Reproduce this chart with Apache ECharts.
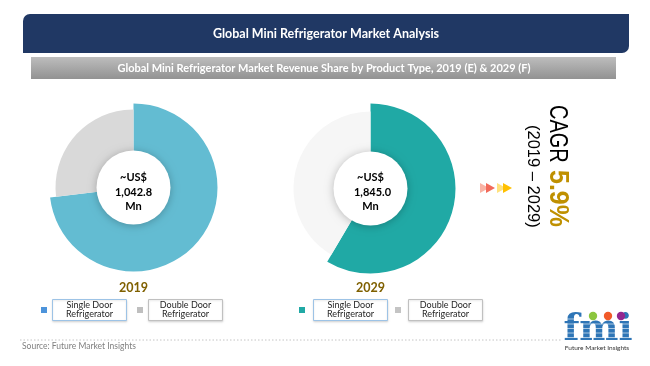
<!DOCTYPE html>
<html><head><meta charset="utf-8">
<script src="https://cdn.jsdelivr.net/npm/echarts@6/dist/echarts.min.js"></script>
<style>html,body{margin:0;padding:0;background:#fff}#c{width:650px;height:366px}</style>
</head><body><div id="c"></div>
<script>
// ---- data ----
const categories = ['Single Door Refrigerator', 'Double Door Refrigerator'];
const categoryLines = [['Single Door', 'Refrigerator'], ['Double Door', 'Refrigerator']];
const years = ['2019', '2029'];
const share2019 = [73.1, 26.9];
const share2029 = [58.5, 41.5];
const marketValue = ['1,042.8', '1,845.0'];
const valuePrefix = '~US$';
const valueUnit = 'Mn';
const cagrLabel = 'CAGR';
const cagrValue = '5.9%';
const cagrPeriod = '(2019 – 2029)';
const titleText = 'Global Mini Refrigerator Market Analysis';
const subtitleText = 'Global Mini Refrigerator Market Revenue Share by Product Type, 2019 (E) & 2029 (F)';
const sourceText = 'Source: Future Market Insights';

// ---- styles ----
const FONT = 'Lato, "Open Sans", sans-serif';
const pies = [
  { center: [133.5, 187.5], radii: [84, 78], hole: 36, colors: ['#63bcd2', '#d9d9d9'], legend: ['#4d94db', '#bfbfbf'], data: share2019 },
  { center: [370.5, 188.5], radii: [85, 77], hole: 36, colors: ['#20a9a5', '#f6f6f6'], legend: ['#21a9a5', '#c4c4c4'], data: share2029 }
];
const legendX = [[41, 52, 137, 148], [299, 313, 395, 408]];

const series = [];
pies.forEach((p) => {
  [0, 1].forEach((k) => {
    series.push({
      type: 'pie',
      center: p.center,
      radius: [p.hole, p.radii[k]],
      startAngle: 90,
      clockwise: true,
      silent: true,
      animation: false,
      label: { show: false },
      labelLine: { show: false },
      emphasis: { disabled: true },
      itemStyle: { borderWidth: 0 },
      data: p.data.map((v, j) => ({
        name: categories[j],
        value: v,
        itemStyle: { color: j === k ? p.colors[j] : 'rgba(0,0,0,0)', borderWidth: 0 }
      }))
    });
  });
});

const txt = (x, y, text, font, fill, align, extra) => Object.assign({
  type: 'text', x: x, y: y, z: 100,
  style: { text: text, font: font, fill: fill, textAlign: align || 'center', align: align || 'center',
           textVerticalAlign: 'middle', verticalAlign: 'middle' }
}, extra || {});

const graphics = [];
// header
graphics.push({ type: 'rect', z: 50, shape: { x: 23, y: 14, width: 606, height: 39, r: [7, 0, 7, 0] },
  style: { fill: '#203864' } });
graphics.push(txt(326, 34, titleText, 'bold 12.5px ' + FONT, '#ffffff'));
graphics.push({ type: 'rect', z: 50, shape: { x: 31, y: 57, width: 585, height: 22 },
  style: { fill: new echarts.graphic.LinearGradient(0, 0, 0, 1, [{ offset: 0, color: '#bdbdbd' }, { offset: 1, color: '#929292' }]) } });
graphics.push(txt(324, 68, subtitleText, 'bold 11px ' + FONT, '#ffffff'));

// pie centers, labels, legends
pies.forEach((p, i) => {
  graphics.push({ type: 'circle', z: 90, shape: { cx: p.center[0], cy: p.center[1], r: p.hole + 1 },
    style: { fill: '#ffffff', shadowBlur: 9, shadowColor: 'rgba(0,0,0,0.25)', shadowOffsetX: 0, shadowOffsetY: 1 } });
  const cx = p.center[0];
  graphics.push(txt(cx, 177, valuePrefix, 'bold 11px ' + FONT, '#000000'));
  graphics.push(txt(cx + (i ? 2 : 0), 192, marketValue[i], 'bold 11px ' + FONT, '#000000'));
  graphics.push(txt(cx, 206.5, valueUnit, 'bold 11px ' + FONT, '#000000'));
  graphics.push(txt(cx, 287.5, years[i], 'bold 12.5px ' + FONT, '#7f6000'));
  const lx = legendX[i];
  [0, 1].forEach((j) => {
    graphics.push({ type: 'rect', z: 60, shape: { x: lx[j * 2], y: 307, width: 6, height: 6 }, style: { fill: p.legend[j] } });
    graphics.push({ type: 'rect', z: 60, shape: { x: lx[j * 2 + 1] + 0.5, y: 299.5, width: 74, height: 21 },
      style: { fill: '#ffffff', stroke: j === 0 ? '#9dc3e6' : '#c0c0c0', lineWidth: 1,
               shadowBlur: 2, shadowColor: 'rgba(0,0,0,0.12)', shadowOffsetY: 1 } });
    graphics.push(txt(lx[j * 2 + 1] + 37.5, 305.5, categoryLines[j][0], '9px ' + FONT, '#262626'));
    graphics.push(txt(lx[j * 2 + 1] + 37.5, 314.5, categoryLines[j][1], '9px ' + FONT, '#262626'));
  });
});

// arrows
const chevron = (x0, c1, c2) => [
  { type: 'polygon', z: 60, shape: { points: [[x0, 183], [x0 + 9, 188], [x0, 193]] }, style: { fill: c1 } },
  { type: 'polygon', z: 61, shape: { points: [[x0 + 6, 183], [x0 + 15, 188], [x0 + 6, 193]] }, style: { fill: c2 } }
];
graphics.push(...chevron(480, '#f9b3a5', '#f26a5a'));
graphics.push(...chevron(497, '#ffe27f', '#ffc000'));

// CAGR rotated texts
graphics.push(Object.assign(txt(557.5, 105, cagrLabel, '20px "Liberation Sans", Arial, sans-serif', '#000000', 'left'),
  { rotation: -Math.PI / 2, scaleY: 1.3 }));
graphics.push(Object.assign(txt(558, 170, cagrValue, 'bold 25px "Liberation Sans", Arial, sans-serif', '#bf9000', 'left'),
  { rotation: -Math.PI / 2, scaleY: 1.1 }));
graphics.push(Object.assign(txt(532.5, 125, cagrPeriod, '16.5px "Liberation Sans", Arial, sans-serif', '#000000', 'left'),
  { rotation: -Math.PI / 2, scaleY: 1.05 }));

// footer
graphics.push({ type: 'line', z: 40, shape: { x1: 20, y1: 340, x2: 562, y2: 340 },
  style: { stroke: '#c4c4c4', lineWidth: 1, lineDash: [1.5, 2] } });
graphics.push(txt(22, 346, sourceText, '8.5px ' + FONT, '#808080', 'left'));

// logo
graphics.push(txt(598, 330, 'fmi', 'bold 37px "DejaVu Serif", serif', '#2e75b6'));
[319, 324, 328.5, 333, 337.5].forEach((y) => {
  graphics.push({ type: 'line', z: 110, shape: { x1: 562, y1: y, x2: 634, y2: y }, style: { stroke: 'rgba(255,255,255,0.75)', lineWidth: 0.8 } });
});
graphics.push({ type: 'circle', z: 120, shape: { cx: 593, cy: 316, r: 4.2 }, style: { fill: '#8cc63f' } });
graphics.push({ type: 'circle', z: 120, shape: { cx: 608, cy: 316, r: 4.2 }, style: { fill: '#f15a29' } });
graphics.push({ type: 'circle', z: 120, shape: { cx: 621, cy: 316, r: 4.2 }, style: { fill: '#93278f' } });
graphics.push(txt(597, 347.5, 'Future Market Insights', '6.5px ' + FONT, '#333333'));

const chart = echarts.init(document.getElementById('c'), null, { renderer: 'canvas' });
chart.setOption({
  backgroundColor: '#ffffff',
  animation: false,
  series: series,
  graphic: { elements: graphics }
});
</script></body></html>
